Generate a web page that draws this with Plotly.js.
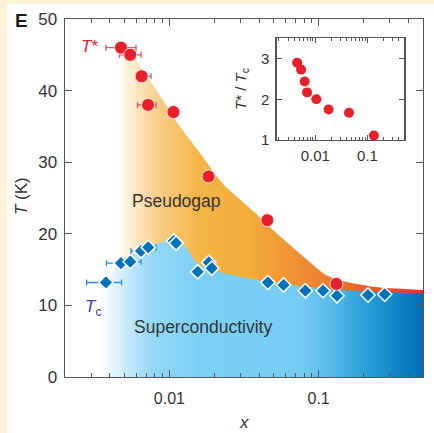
<!DOCTYPE html>
<html>
<head>
<meta charset="utf-8">
<script src="https://cdn.plot.ly/plotly-3.0.1.min.js"></script>
<style>html,body{margin:0;padding:0;background:#FDF2D6;}#chart{width:434px;height:433px;}</style>
</head>
<body>
<div id="chart"></div>
<script>
// ---- Data ----
// Pseudogap temperature T* (red circles)
const tstarX = [0.00474, 0.00547, 0.00652, 0.00720, 0.01064, 0.01828, 0.0453, 0.1315];
const tstarT = [46.0, 45.0, 42.0, 38.0, 37.0, 28.0, 21.9, 13.0];
const tstarErrLo = [0.00376, 0.00464, 0.00598, 0.00612, null, null, null, null];
const tstarErrHi = [0.00598, 0.00646, 0.00754, 0.00815, null, null, null, null];

// Superconducting Tc (blue diamonds)
const tcX = [0.00376, 0.00474, 0.00547, 0.00646, 0.00722, 0.01069, 0.01110, 0.01549, 0.01836, 0.01923,
             0.0457, 0.0582, 0.0815, 0.107, 0.1327, 0.214, 0.277];
const tcT = [13.2, 15.9, 16.1, 17.6, 18.1, 19.0, 18.7, 14.7, 16.0, 15.2,
             13.2, 12.85, 12.05, 12.05, 11.35, 11.45, 11.55];
const tcErrLo = [0.00279, 0.00379, 0.00460, 0.00553, 0.00629, null, null, null, null, null, null, null, null, null, null, null, null];
const tcErrHi = [0.00479, 0.00574, 0.00646, 0.00738, 0.00815, null, null, null, null, null, null, null, null, null, null, null, null];

// Shaded region boundaries
const pgBoundX = [0.004385, 0.006982, 0.009502, 0.01137, 0.01549, 0.02280, 0.03819, 0.05199, 0.07447, 0.1127, 0.1383, 0.2311, 0.5];
const pgBoundT = [48.5, 42.2, 38.0, 35.4, 31.7, 27.0, 22.8, 20.1, 17.3, 14.2, 13.5, 12.6, 12.15];
const scBoundX = [0.00339, 0.00377, 0.00484, 0.00701, 0.00897, 0.01080, 0.01301, 0.01518, 0.01945, 0.02951, 0.04548, 0.08299, 0.1383, 0.2301, 0.5];
const scBoundT = [13.0, 13.3, 16.3, 18.2, 18.8, 19.0, 18.0, 16.0, 14.9, 14.0, 13.3, 12.6, 12.2, 11.9, 11.7];

// Inset: T*/Tc
const ratioX = [0.00447, 0.00533, 0.00624, 0.00693, 0.01045, 0.01795, 0.0441, 0.1324];
const ratioY = [2.90, 2.73, 2.44, 2.17, 2.00, 1.75, 1.67, 1.11];

// Tick labels
const xTickVals = [0.01, 0.1];
const xTickText = ['0.01', '0.1'];
const yTickVals = [0, 10, 20, 30, 40, 50];
const insetYTickVals = [1, 2, 3];

// ---- helpers ----
function errPlus(x, hi) { return x.map((v, i) => hi[i] == null ? NaN : hi[i] - v); }
function errMinus(x, lo) { return x.map((v, i) => lo[i] == null ? NaN : v - lo[i]); }
const minorVals = [];
[0.001, 0.01, 0.1].forEach(d => { for (let k = 2; k <= 9; k++) minorVals.push(k * d); });

const L = 65, R = 423, T = 19, B = 377;
const pxX = p => (p - L) / (R - L);
const pxY = p => (B - p) / (B - T);

const FONT = 'Liberation Sans, Arial, Helvetica, sans-serif';
const AX = '#555';
const TXT = '#333';

const traces = [
  { // pseudogap region
    x: pgBoundX, y: pgBoundT, mode: 'lines', line: {width: 0, shape: 'spline', smoothing: 0.6},
    fill: 'tozeroy', hoverinfo: 'skip', showlegend: false,
    fillgradient: {type: 'horizontal', colorscale: [
      [0, '#FFFFFF'], [0.06, '#FCE9C8'], [0.15, '#F7CB80'], [0.27, '#F4B547'], [0.43, '#F2AE3A'],
      [0.56, '#EF9634'], [0.70, '#ED7B30'], [0.84, '#EA5A2C'], [1, '#E5302A']]}
  },
  { // superconducting region
    x: scBoundX, y: scBoundT, mode: 'lines', line: {width: 0, shape: 'spline', smoothing: 0.6},
    fill: 'tozeroy', hoverinfo: 'skip', showlegend: false,
    fillgradient: {type: 'horizontal', colorscale: [
      [0, '#FFFFFF'], [0.06, '#D8F0FB'], [0.16, '#95D8F6'], [0.31, '#7CD0F5'], [0.62, '#76CDF4'],
      [0.74, '#4FB4E6'], [0.85, '#1F98D3'], [1, '#0070B6']]}
  },
  { // Tc
    x: tcX, y: tcT, mode: 'markers', showlegend: false,
    marker: {symbol: 'diamond', size: 11, color: '#0071BC', line: {color: '#FFFFFF', width: 1.5}},
    error_x: {type: 'data', symmetric: false, array: errPlus(tcX, tcErrHi), arrayminus: errMinus(tcX, tcErrLo),
              color: '#2E8FD4', thickness: 1.3, width: 3}
  },
  { // T*
    x: tstarX, y: tstarT, mode: 'markers', showlegend: false,
    marker: {symbol: 'circle', size: 13, color: '#E8202A', line: {color: 'rgba(255,235,235,0.9)', width: 1}},
    error_x: {type: 'data', symmetric: false, array: errPlus(tstarX, tstarErrHi), arrayminus: errMinus(tstarX, tstarErrLo),
              color: '#E8505A', thickness: 1.3, width: 3}
  },
  { // inset
    x: ratioX, y: ratioY, xaxis: 'x2', yaxis: 'y2', mode: 'markers', showlegend: false,
    marker: {symbol: 'circle', size: 10, color: '#E8202A'}
  }
];

const axisCommon = {
  showline: true, linecolor: AX, linewidth: 1.4, mirror: 'ticks', ticks: 'inside',
  tickcolor: AX, tickwidth: 1.2, showgrid: false, zeroline: false
};

const layout = {
  width: 434, height: 433,
  margin: {l: L, r: 434 - R, t: T, b: 433 - B, pad: 0},
  paper_bgcolor: '#FDF2D6', plot_bgcolor: '#FFFFFF',
  font: {family: FONT, color: TXT},
  showlegend: false,
  xaxis: Object.assign({}, axisCommon, {
    type: 'log', range: [Math.log10(0.002), Math.log10(0.5)],
    tickmode: 'array', tickvals: xTickVals, ticktext: xTickText, ticklen: 7, ticklabelstandoff: 6,
    minor: {tickmode: 'array', tickvals: minorVals, ticks: 'inside', ticklen: 4, tickcolor: AX, tickwidth: 1, showgrid: false},
    tickfont: {family: FONT, size: 16, color: TXT}
  }),
  yaxis: Object.assign({}, axisCommon, {
    range: [0, 50], tickmode: 'array', tickvals: yTickVals, ticklen: 7, ticklabelstandoff: 3,
    tickfont: {family: FONT, size: 17, color: TXT}
  }),
  xaxis2: Object.assign({}, axisCommon, {
    domain: [pxX(276.5), pxX(404.3)], anchor: 'y2', linewidth: 1.2,
    type: 'log', range: [-2.745, -0.295],
    tickmode: 'array', tickvals: xTickVals, ticktext: xTickText, ticklen: 5, ticklabelstandoff: 2,
    minor: {tickmode: 'array', tickvals: minorVals, ticks: 'inside', ticklen: 3, tickcolor: AX, tickwidth: 1, showgrid: false},
    tickfont: {family: FONT, size: 15, color: TXT}
  }),
  yaxis2: Object.assign({}, axisCommon, {
    domain: [pxY(140), pxY(38.3)], anchor: 'x2', linewidth: 1.2,
    range: [1, 3.5], tickmode: 'array', tickvals: insetYTickVals, ticklen: 5, ticklabelstandoff: 3,
    tickfont: {family: FONT, size: 15, color: TXT}
  }),
  shapes: [
    {type: 'rect', xref: 'paper', yref: 'paper', layer: 'below',
     x0: pxX(7), x1: pxX(450), y0: pxY(450), y1: pxY(4),
     fillcolor: '#FFFFFF', line: {width: 0}}
  ],
  annotations: [
    // axis titles
    {text: '<i>T</i> (K)', x: pxX(22), y: pxY(196), xref: 'paper', yref: 'paper', showarrow: false, textangle: -90,
     xanchor: 'center', yanchor: 'middle', font: {family: FONT, size: 17, color: TXT}},
    {text: '<i>x</i>', x: pxX(244), y: pxY(422), xref: 'paper', yref: 'paper', showarrow: false,
     xanchor: 'center', yanchor: 'middle', font: {family: FONT, size: 17, color: TXT}},
    {text: '<i>T</i>* / <i>T</i><sub>c</sub>', x: pxX(242), y: pxY(89), xref: 'paper', yref: 'paper', showarrow: false, textangle: -90,
     xanchor: 'center', yanchor: 'middle', font: {family: FONT, size: 15, color: TXT}},
    // panel letter and labels
    {text: '<b>E</b>', x: pxX(21), y: pxY(20), xref: 'paper', yref: 'paper', showarrow: false,
     xanchor: 'center', yanchor: 'middle', font: {family: FONT, size: 19, color: '#1a1a1a'}},
    {text: '<i>T</i>*', x: pxX(89), y: pxY(46), xref: 'paper', yref: 'paper', showarrow: false,
     xanchor: 'center', yanchor: 'middle', font: {family: FONT, size: 17, color: '#E8202A'}},
    {text: 'Pseudogap', x: pxX(176), y: pxY(201), xref: 'paper', yref: 'paper', showarrow: false,
     xanchor: 'center', yanchor: 'middle', font: {family: FONT, size: 17.5, color: TXT}},
    {text: 'Superconductivity', x: pxX(203), y: pxY(327), xref: 'paper', yref: 'paper', showarrow: false,
     xanchor: 'center', yanchor: 'middle', font: {family: FONT, size: 17.5, color: TXT}},
    {text: '<i>T</i><sub>c</sub>', x: pxX(93), y: pxY(308), xref: 'paper', yref: 'paper', showarrow: false,
     xanchor: 'center', yanchor: 'middle', font: {family: FONT, size: 17, color: '#3B3B98'}}
  ]
};

Plotly.newPlot('chart', traces, layout, {displayModeBar: false, staticPlot: true});
</script>
</body>
</html>
